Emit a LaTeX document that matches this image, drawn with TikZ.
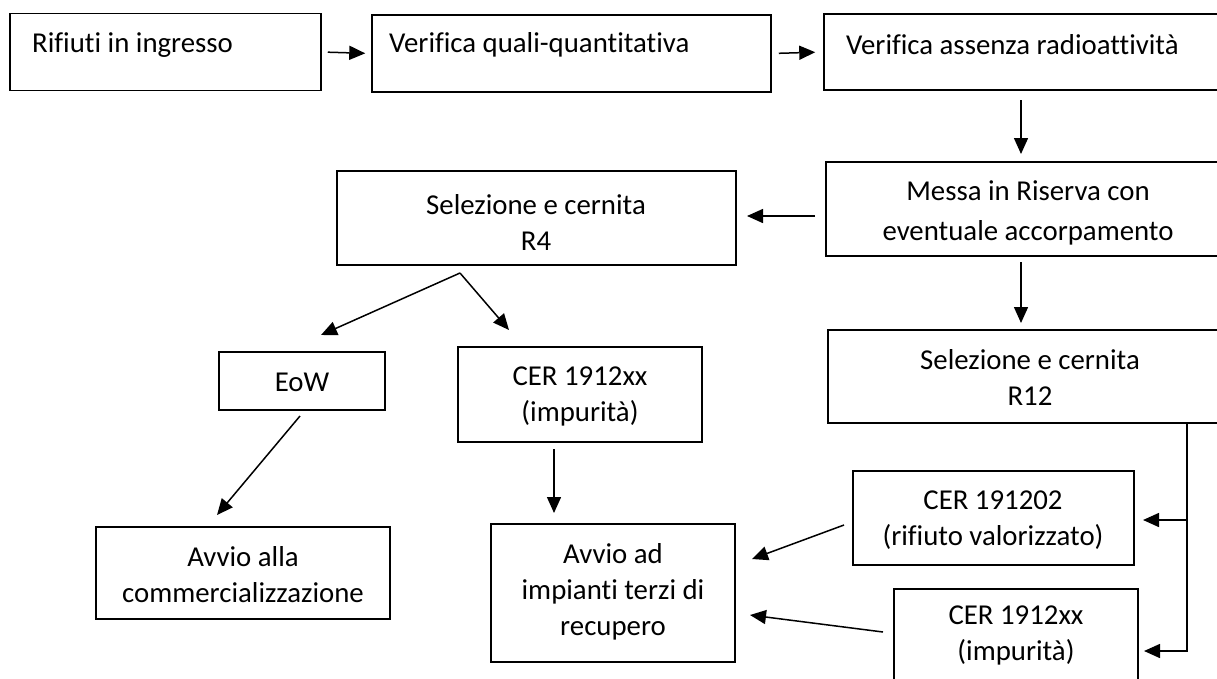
\documentclass[tikz,border=0pt]{standalone}
\usepackage{fontspec}
\setmainfont{Carlito}[Ligatures=CommonOff]
\usetikzlibrary{arrows.meta}
\tikzset{
  box/.style={draw=black, line width=1.5pt, rectangle, inner sep=0pt},
  txt/.style={inner sep=0pt, font=\fontsize{28.8}{36}\selectfont, align=center},
  arr/.style={draw=black, line width=1.5pt, -{Triangle[length=16pt,width=14pt]}},
  ln/.style={draw=black, line width=1.5pt}
}
\begin{document}
\begin{tikzpicture}[x=1pt,y=-1pt]
\useasboundingbox (0,0) rectangle (1217,678);
\fill[white] (0,0) rectangle (1217,678);
\clip (0,0) rectangle (1217,678);
% boxes
\node[box, minimum width=311pt, minimum height=77pt] (b1) at (165.5,52) {};
\node[box, minimum width=399pt, minimum height=77pt] (b2) at (571.5,53.5) {};
\node[box, minimum width=408pt, minimum height=76pt] (b3) at (1028,52) {};
\node[box, minimum width=406pt, minimum height=94pt] (b4) at (1029,209) {};
\node[box, minimum width=399pt, minimum height=94pt] (b5) at (536.5,218) {};
\node[box, minimum width=166pt, minimum height=58pt] (eow) at (302,381) {};
\node[box, minimum width=244pt, minimum height=95pt] (cer1) at (580,394.5) {};
\node[box, minimum width=294pt, minimum height=92pt] (alla) at (243,573) {};
\node[box, minimum width=244pt, minimum height=138pt] (ad) at (613,593) {};
\node[box, minimum width=404pt, minimum height=93pt] (r12) at (1030,376.5) {};
\node[box, minimum width=281pt, minimum height=94pt] (cer2) at (993.5,518) {};
\node[box, minimum width=244pt, minimum height=111pt] (cer3) at (1016,644.5) {};
% texts
\node[txt, anchor=west] (t1) at (32,45) {Rifiuti in ingresso};
\node[txt, anchor=west] (t2) at (389,45) {Verifica quali-quantitativa};
\node[txt, anchor=west] (t3) at (846,45) {Verifica assenza radioattività};
\node[txt] (t4) at (1028,213) {Messa in Riserva con\\[4pt]eventuale accorpamento};
\node[txt] (t5) at (536,222.5) {Selezione e cernita\\R4};
\node[txt] (t6) at (302,382) {EoW};
\node[txt] (t7) at (580,396.5) {CER 1912xx\\(impurità)};
\node[txt] (t8) at (243,575) {Avvio alla\\commercializzazione};
\node[txt] (t9) at (613,592) {Avvio ad\\impianti terzi di\\recupero};
\node[txt] (t10) at (1030,377.5) {Selezione e cernita\\R12};
\node[txt] (t11) at (993,520) {CER 191202\\(rifiuto valorizzato)};
\node[txt] (t12) at (1016,635.5) {CER 1912xx\\(impurità)};
% connector points
\coordinate (a3s) at (1021,100);
\coordinate (a3e) at (1021,154);
\coordinate (a4s) at (815,216);
\coordinate (a4e) at (747,216);
\coordinate (apex) at (460,273);
\coordinate (eowtip) at (321,335);
\coordinate (cer1tip) at (509,330);
\coordinate (e1s) at (300,416);
\coordinate (e1e) at (217,515);
\coordinate (c1s) at (554,449);
\coordinate (c1e) at (554,513);
\coordinate (m1s) at (1021,262);
\coordinate (m1e) at (1021,323);
\coordinate (r12s) at (1187,423);
\coordinate (r12m) at (1187,520);
\coordinate (r12b) at (1187,651);
\coordinate (cer2tip) at (1143,520);
\coordinate (cer3tip) at (1144,651);
\coordinate (v1s) at (844,525);
\coordinate (v1e) at (752,559);
\coordinate (v2s) at (883,632);
\coordinate (v2e) at (750,615);
% connectors
\draw[arr, shorten <=6pt, shorten >=6pt] (b1.east) -- (b2.west);
\draw[arr, shorten <=7pt, shorten >=8pt] (b2.east) -- (b3.west);
\draw[arr] (a3s) -- (a3e);
\draw[arr] (a4s) -- (a4e);
\draw[arr] (apex) -- (eowtip);
\draw[arr] (apex) -- (cer1tip);
\draw[arr] (e1s) -- (e1e);
\draw[arr] (c1s) -- (c1e);
\draw[arr] (m1s) -- (m1e);
\draw[arr] (r12s) -- (r12b) -- (cer3tip);
\draw[arr] (r12m) -- (cer2tip);
\draw[arr] (v1s) -- (v1e);
\draw[arr] (v2s) -- (v2e);
\end{tikzpicture}
\end{document}
